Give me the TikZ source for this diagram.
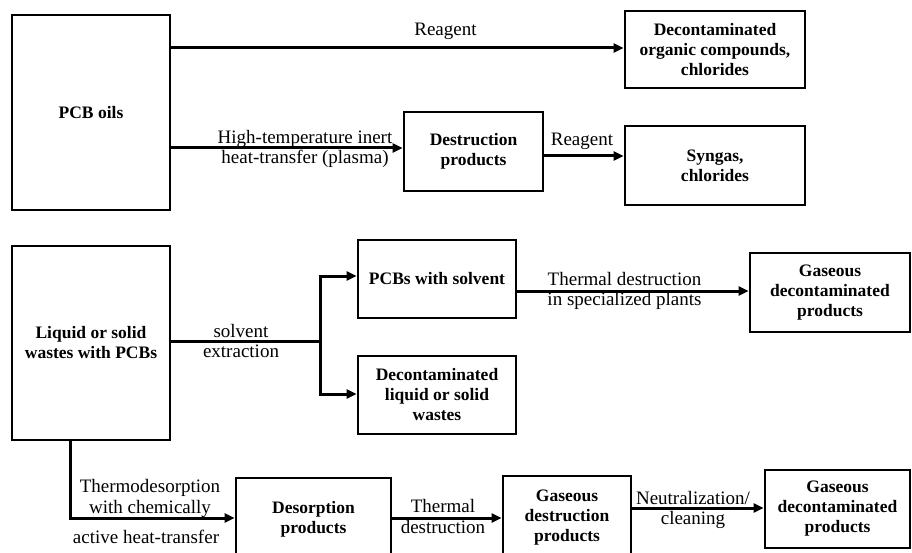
\documentclass[tikz,border=0pt]{standalone}
\usepackage{fontspec}
\setmainfont{Liberation Serif}
\usetikzlibrary{arrows.meta}

\begin{document}
\begin{tikzpicture}[x=1pt,y=1pt,yscale=-1,
  box/.style={draw,line width=2.8pt,align=center,inner sep=0pt,font=\fontsize{17.5}{20}\selectfont\bfseries},
  lbl/.style={align=center,inner sep=0pt,font=\fontsize{19}{20.5}\selectfont},
  flow/.style={line width=3pt,-{Triangle[length=10pt,width=9pt]}},
  link/.style={line width=3pt}]
\clip (0,0) rectangle (912,553);

%Boxes: PCB oils branch
\node (oils) [box,minimum width=158,minimum height=195] at (91,112.5) {PCB oils};
\node (decorg) [box,minimum width=180,minimum height=77] at (715,49.5) {Decontaminated\\organic compounds,\\chlorides};
\node (destr) [box,minimum width=139,minimum height=79] at (473.5,151.5) {Destruction\\products};
\node (syngas) [box,minimum width=180,minimum height=79] at (715,165.5) {Syngas,\\chlorides};

%Boxes: wastes branch
\node (wastes) [box,minimum width=158,minimum height=194] at (91,343) {Liquid or solid\\wastes with PCBs};
\node (pcbsol) [box,minimum width=158,minimum height=78] at (437,279) {PCBs with solvent};
\node (decwaste) [box,minimum width=158,minimum height=78] at (437,395) {Decontaminated\\liquid or solid\\wastes};
\node (gasdec) [box,minimum width=160,minimum height=79] at (830,292.5) {Gaseous\\decontaminated\\products};

%Boxes: thermodesorption line
\node (desorp) [box,minimum width=155,minimum height=82] at (313.5,519) {Desorption\\products};
\node (gasdestr) [box,minimum width=128,minimum height=84] at (567,518) {Gaseous\\destruction\\products};
\node (gasfin) [box,minimum width=145,minimum height=78] at (837.5,509) {Gaseous\\decontaminated\\products};

%Connectors
\draw[flow] (oils.east |- 0,48) -- (decorg.west |- 0,48);
\draw[flow] (oils.east |- 0,148) -- (destr.west |- 0,148);
\draw[flow] (destr.east |- 0,156) -- (syngas.west |- 0,156);

\coordinate (fork) at (320,341);
\draw[link] (wastes.east |- fork) -- (fork);
\draw[flow] (fork) |- (pcbsol.west |- 0,276);
\draw[flow] (fork) |- (decwaste.west |- 0,394);
\draw[flow] (pcbsol.east |- 0,291) -- (gasdec.west |- 0,291);

\draw[flow] (wastes.south -| 70,0) |- (desorp.west |- 0,518);
\draw[flow] (desorp.east |- 0,518) -- (gasdestr.west |- 0,518);
\draw[flow] (gasdestr.east |- 0,508) -- (gasfin.west |- 0,508);

%Labels
\node (reagentA) [lbl,anchor=base] at (445.5,36) {Reagent};
\node (hightemp) [lbl] at (305,148.8) {High-temperature inert\\heat-transfer (plasma)};
\node (reagentB) [lbl,anchor=base] at (582,146) {Reagent};
\node (solvext) [lbl] at (241,340.8) {solvent\\extraction};
\node (thermdes) [lbl] at (624.5,290.8) {Thermal destruction\\in specialized plants};
\node (thermo) [lbl] at (150,498.3) {Thermodesorption\\with chemically};
\node (active) [lbl,anchor=base] at (146,543) {active heat-transfer};
\node (thermal) [lbl] at (443,516.3) {Thermal\\destruction};
\node (neutral) [lbl] at (693,509.8) {Neutralization/\\cleaning};

\end{tikzpicture}
\end{document}
